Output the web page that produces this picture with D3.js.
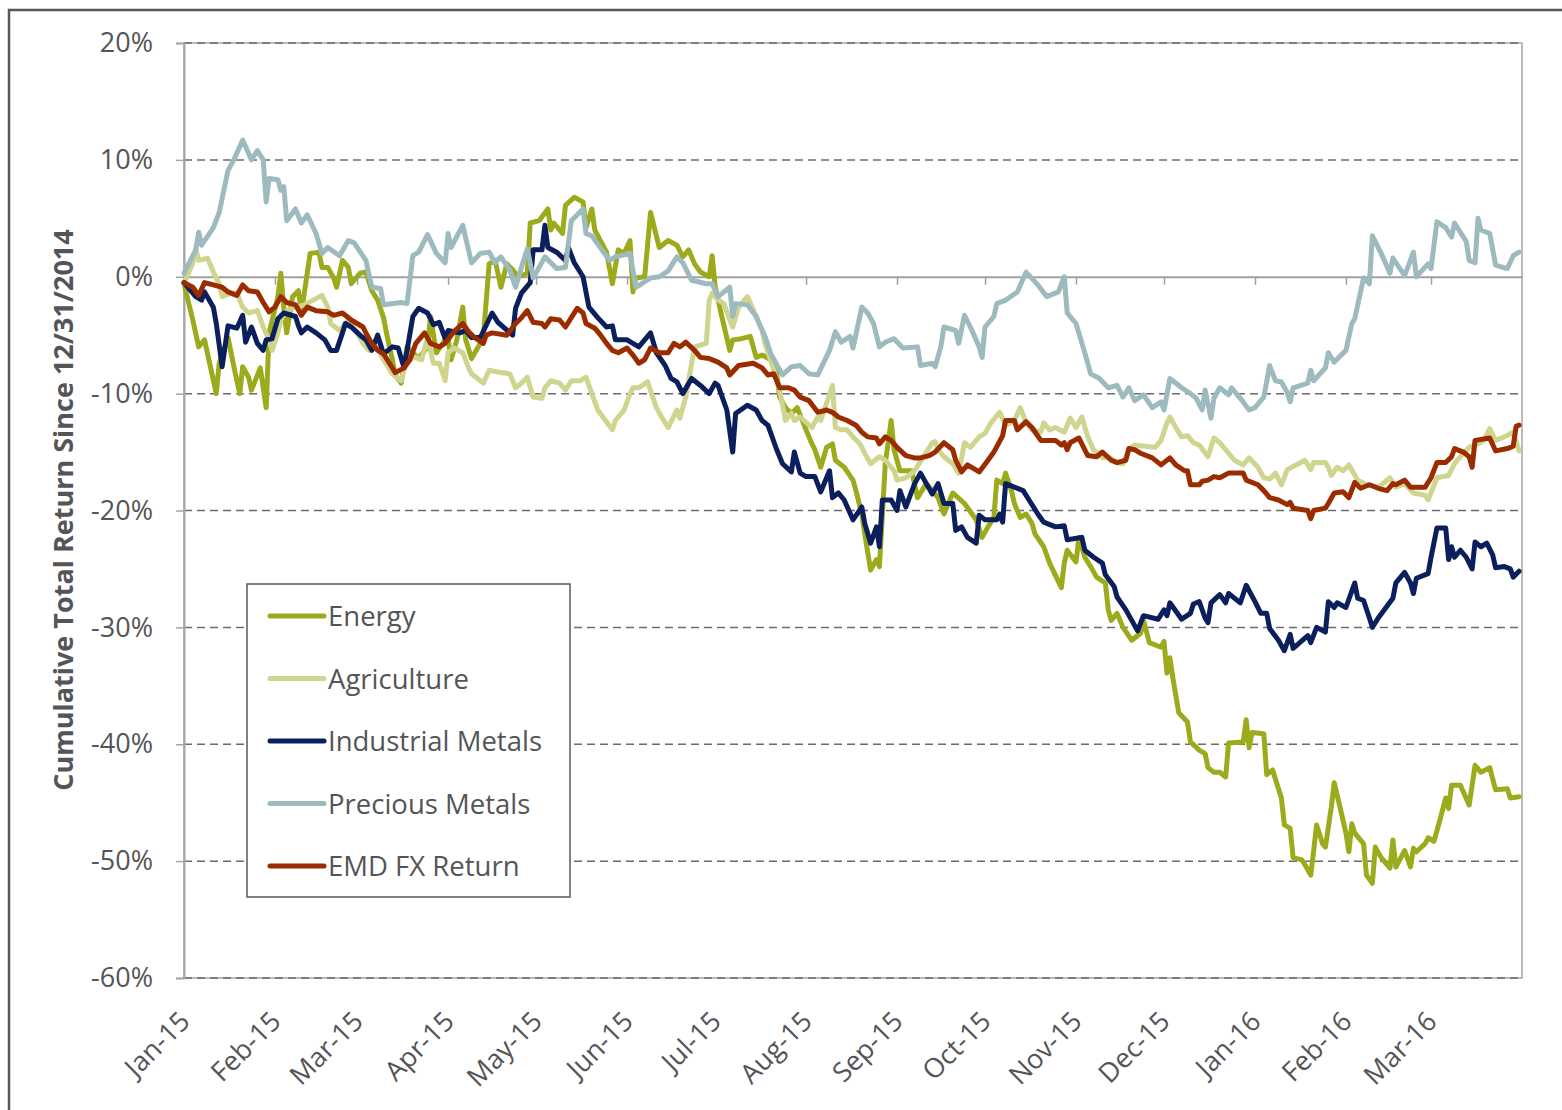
<!DOCTYPE html>
<html>
<head>
<meta charset="utf-8">
<script src="https://cdn.jsdelivr.net/npm/d3@7"></script>
<style>
  body { margin: 0; background: #fff; }
  svg { display: block; font-family: "Open Sans", sans-serif; }
</style>
</head>
<body>
<script>
// [days since 2015-01-01, cumulative return %]
const energy = [[0,-0.6],[3,-3.7],[5,-6.0],[7,-5.4],[11,-10.0],[12,-7.4],[15,-5.2],[17,-7.7],[19,-10.0],[20,-7.7],[22,-8.6],[23,-9.7],[26,-7.8],[28,-11.2],[29,-4.8],[32,-1.7],[33,0.3],[34,-2.6],[35,-4.8],[37,-1.7],[39,-1.2],[40,-3.1],[43,2.0],[46,2.1],[47,0.8],[49,0.8],[51,-0.1],[52,-0.9],[54,1.4],[56,0.8],[57,-0.6],[60,0.3],[62,0.4],[64,-1.2],[66,-2.0],[68,-3.5],[69,-4.8],[71,-7.1],[72,-8.4],[74,-9.1],[76,-6.0],[78,-6.5],[80,-7.0],[83,-6.0],[84,-3.4],[86,-6.5],[89,-5.4],[90,-5.2],[91,-7.1],[93,-5.4],[95,-2.6],[96,-5.4],[98,-7.0],[101,-5.7],[102,-5.2],[104,1.1],[106,1.4],[107,0.3],[108,-0.9],[110,1.1],[112,0.6],[114,0.0],[117,0.3],[118,4.6],[121,4.8],[124,5.8],[125,4.0],[126,4.6],[129,3.7],[130,6.1],[133,6.8],[136,6.4],[137,4.2],[139,5.8],[140,4.0],[144,2.1],[146,-0.6],[148,2.3],[150,2.0],[152,3.1],[153,-1.3],[154,-0.1],[157,0.0],[159,5.5],[162,2.5],[165,3.1],[168,2.7],[170,1.7],[172,2.3],[174,1.1],[176,0.4],[179,0.0],[180,1.8],[181,-0.8],[183,-3.1],[186,-6.3],[187,-5.4],[190,-5.3],[193,-5.1],[195,-6.9],[197,-6.7],[200,-7.1],[202,-8.3],[203,-10.3],[205,-11.2],[207,-11.7],[209,-11.2],[212,-13.1],[214,-14.3],[215,-14.8],[217,-16.3],[219,-14.6],[221,-14.3],[222,-15.7],[225,-16.3],[228,-17.4],[229,-18.3],[231,-20.3],[232,-22.0],[234,-25.1],[236,-24.2],[237,-24.8],[239,-16.0],[241,-12.3],[242,-14.8],[244,-16.6],[248,-16.6],[250,-18.9],[253,-17.7],[257,-18.9],[259,-20.3],[262,-18.5],[266,-19.4],[270,-20.8],[272,-22.3],[274,-21.4],[276,-20.6],[277,-17.4],[279,-17.7],[280,-16.8],[282,-18.3],[283,-19.4],[285,-20.6],[287,-20.3],[289,-21.1],[290,-22.0],[293,-23.1],[295,-24.5],[299,-26.6],[300,-24.5],[301,-23.4],[304,-24.4],[305,-22.3],[307,-24.0],[309,-24.8],[311,-25.7],[314,-26.2],[315,-28.5],[316,-29.4],[318,-28.8],[320,-30.0],[323,-31.1],[326,-30.5],[327,-29.4],[329,-31.3],[333,-31.7],[334,-31.2],[335,-33.9],[336,-32.6],[337,-34.3],[339,-37.3],[342,-38.1],[343,-39.8],[346,-40.5],[348,-40.8],[349,-42.0],[351,-42.4],[353,-42.4],[355,-42.8],[356,-39.9],[361,-39.8],[362,-37.9],[363,-40.3],[364,-39.0],[368,-39.1],[369,-42.6],[371,-42.2],[374,-44.6],[375,-46.9],[377,-47.2],[378,-49.7],[381,-49.9],[382,-50.3],[384,-51.2],[385,-49.1],[386,-46.9],[388,-48.5],[389,-48.8],[391,-45.4],[392,-43.3],[394,-45.4],[396,-47.6],[397,-49.2],[398,-46.8],[399,-47.6],[402,-48.5],[403,-51.2],[405,-51.9],[406,-48.8],[408,-49.7],[411,-50.6],[412,-48.2],[413,-50.5],[416,-49.1],[418,-50.5],[419,-48.9],[420,-49.2],[423,-48.5],[424,-48.0],[426,-48.3],[428,-46.5],[430,-44.6],[431,-45.5],[432,-43.5],[435,-43.5],[438,-45.2],[440,-41.8],[442,-42.4],[445,-42.0],[447,-43.9],[451,-43.8],[452,-44.6],[455,-44.5]];

const agriculture = [[0,-0.6],[3,1.2],[4,2.4],[5,1.4],[8,1.6],[10,0.4],[12,-0.6],[13,-1.7],[16,-1.4],[18,-1.4],[20,-2.6],[22,-3.1],[25,-2.9],[27,-4.3],[29,-5.4],[30,-6.3],[32,-4.8],[33,-3.7],[35,-2.9],[38,-2.6],[41,-2.4],[44,-2.0],[47,-1.6],[49,-2.6],[50,-4.0],[53,-4.6],[56,-3.7],[59,-4.8],[61,-5.7],[63,-6.3],[66,-6.1],[68,-7.1],[71,-8.3],[74,-8.9],[76,-7.1],[79,-6.9],[81,-7.1],[83,-5.2],[85,-7.4],[87,-7.4],[89,-8.9],[90,-6.5],[92,-6.1],[95,-6.5],[97,-7.8],[98,-8.3],[102,-9.1],[104,-8.0],[108,-8.2],[111,-8.3],[113,-9.5],[115,-9.1],[117,-8.6],[119,-10.3],[122,-10.4],[123,-9.5],[125,-8.9],[128,-9.1],[130,-9.7],[132,-8.9],[135,-8.9],[137,-8.6],[139,-10.0],[141,-11.4],[146,-13.1],[147,-12.3],[150,-11.4],[152,-10.0],[153,-9.5],[155,-9.5],[158,-9.0],[161,-11.2],[163,-12.1],[165,-12.9],[168,-11.4],[169,-12.1],[171,-10.3],[174,-6.0],[178,-5.7],[179,-2.0],[180,-1.4],[182,-2.0],[184,-2.3],[186,-3.7],[187,-4.3],[189,-2.6],[192,-1.7],[195,-3.4],[197,-4.6],[198,-5.7],[201,-8.0],[203,-9.7],[205,-12.3],[207,-11.7],[208,-12.3],[210,-12.0],[214,-12.9],[216,-12.0],[217,-12.3],[219,-10.8],[221,-9.3],[222,-12.9],[224,-13.1],[226,-13.1],[228,-13.7],[230,-14.2],[231,-14.6],[232,-15.1],[234,-16.0],[237,-15.4],[239,-15.7],[242,-16.6],[243,-17.4],[246,-17.2],[249,-16.6],[252,-15.4],[255,-14.2],[256,-14.1],[257,-14.8],[259,-15.4],[262,-16.0],[264,-16.8],[266,-14.2],[268,-14.6],[271,-13.7],[273,-13.4],[275,-12.5],[278,-11.6],[280,-12.7],[283,-12.3],[285,-11.2],[287,-12.5],[289,-13.1],[292,-13.3],[293,-12.5],[295,-13.1],[297,-12.9],[300,-13.3],[302,-12.1],[304,-12.9],[306,-12.0],[308,-13.7],[310,-14.8],[313,-15.5],[315,-15.4],[318,-15.9],[320,-16.0],[322,-14.8],[324,-14.4],[331,-14.6],[333,-14.0],[335,-12.5],[336,-12.0],[338,-12.9],[340,-13.7],[342,-13.6],[344,-14.2],[346,-14.4],[349,-15.4],[351,-13.8],[353,-14.2],[356,-15.1],[358,-15.7],[361,-16.1],[363,-15.5],[366,-16.3],[368,-17.2],[370,-17.3],[372,-16.8],[374,-17.8],[376,-16.5],[379,-16.1],[382,-15.7],[384,-16.5],[385,-15.9],[389,-15.9],[390,-16.3],[391,-17.0],[393,-16.3],[395,-16.6],[397,-16.1],[400,-17.4],[403,-17.8],[407,-18.0],[409,-17.6],[411,-17.2],[413,-18.0],[416,-17.7],[419,-18.5],[423,-18.7],[424,-19.1],[427,-17.2],[431,-17.0],[433,-16.0],[436,-15.1],[438,-14.6],[441,-14.3],[443,-14.0],[445,-13.0],[447,-14.0],[450,-13.7],[453,-13.3],[455,-14.9]];

const industrialMetals = [[0,-0.5],[4,-1.7],[6,-2.0],[7,-1.3],[10,-2.6],[11,-4.0],[13,-7.7],[15,-4.2],[18,-4.4],[20,-3.3],[21,-5.6],[23,-4.3],[25,-5.7],[27,-6.3],[28,-5.4],[30,-5.3],[32,-3.6],[34,-3.1],[38,-3.4],[39,-4.2],[40,-4.8],[42,-4.3],[45,-4.8],[48,-5.4],[50,-6.3],[52,-6.3],[54,-4.8],[55,-4.0],[57,-4.3],[60,-5.0],[62,-5.4],[64,-6.3],[66,-5.0],[68,-6.6],[71,-6.0],[73,-6.1],[75,-7.8],[78,-3.4],[80,-2.7],[83,-3.1],[85,-4.1],[87,-3.9],[89,-5.3],[90,-4.6],[94,-4.8],[96,-4.6],[98,-5.2],[101,-5.2],[105,-3.1],[107,-3.9],[112,-5.0],[113,-2.7],[115,-1.4],[118,-0.5],[119,2.3],[122,2.3],[123,4.4],[124,2.5],[127,2.1],[130,1.4],[131,2.5],[133,1.2],[136,0.0],[138,-2.6],[141,-3.5],[144,-4.3],[146,-4.2],[147,-5.4],[151,-5.4],[153,-5.7],[155,-6.0],[157,-5.4],[159,-4.8],[161,-6.5],[164,-7.6],[166,-8.7],[168,-9.0],[170,-10.0],[173,-8.7],[176,-9.3],[179,-10.0],[181,-9.1],[182,-9.3],[185,-11.4],[187,-15.0],[188,-11.7],[192,-11.0],[195,-11.4],[197,-12.3],[199,-12.7],[202,-14.8],[204,-16.0],[207,-16.7],[208,-15.0],[210,-16.8],[212,-17.1],[215,-17.1],[217,-18.4],[220,-16.6],[221,-18.9],[223,-18.5],[225,-19.1],[228,-20.8],[231,-19.7],[232,-21.1],[234,-22.8],[236,-21.4],[237,-23.1],[238,-19.1],[241,-19.1],[243,-20.0],[244,-18.3],[246,-19.7],[249,-17.7],[251,-16.8],[253,-17.7],[255,-18.6],[257,-17.7],[259,-19.4],[262,-19.4],[263,-21.7],[265,-21.4],[267,-22.3],[270,-22.8],[271,-20.4],[273,-20.8],[277,-20.8],[278,-20.3],[279,-21.0],[280,-17.7],[283,-18.0],[286,-18.3],[288,-19.1],[291,-20.3],[293,-21.0],[297,-21.4],[300,-21.3],[301,-22.5],[306,-22.3],[307,-23.4],[310,-24.0],[313,-24.5],[314,-25.5],[317,-26.5],[318,-27.4],[321,-28.5],[323,-29.4],[325,-30.3],[327,-29.0],[332,-29.3],[334,-28.5],[335,-29.0],[336,-27.9],[340,-29.3],[343,-28.8],[344,-28.0],[346,-27.8],[348,-29.2],[349,-29.6],[350,-27.9],[353,-27.2],[355,-27.9],[356,-27.1],[360,-27.9],[362,-26.4],[365,-27.8],[367,-28.8],[369,-28.8],[370,-30.1],[373,-31.1],[375,-32.0],[377,-30.6],[378,-31.8],[383,-30.7],[384,-31.3],[386,-30.0],[389,-30.4],[390,-27.8],[392,-28.3],[393,-27.9],[396,-28.3],[399,-26.2],[400,-27.5],[402,-27.7],[404,-29.2],[405,-30.0],[407,-29.2],[412,-27.5],[413,-26.2],[416,-25.3],[418,-26.2],[419,-27.1],[420,-25.8],[424,-25.4],[425,-24.0],[427,-21.5],[430,-21.5],[431,-24.2],[432,-23.1],[433,-24.0],[435,-23.4],[437,-24.0],[439,-25.0],[440,-22.7],[442,-23.1],[444,-22.8],[446,-23.8],[447,-24.9],[450,-24.8],[452,-25.0],[453,-25.7],[455,-25.2]];

const preciousMetals = [[0,0.3],[4,2.3],[5,3.8],[6,2.7],[10,4.2],[12,5.5],[15,9.1],[17,10.0],[20,11.7],[23,10.0],[25,10.8],[27,10.0],[28,6.4],[29,8.4],[32,8.3],[33,7.4],[34,7.7],[35,4.8],[38,5.8],[40,4.6],[42,5.3],[45,3.7],[47,2.0],[49,2.5],[53,1.8],[56,3.1],[58,2.9],[62,1.4],[64,-0.9],[67,-1.0],[68,-2.4],[74,-2.2],[76,-2.3],[78,1.8],[80,2.1],[83,3.6],[86,2.0],[89,1.2],[90,3.7],[91,2.5],[95,4.4],[98,1.2],[101,2.0],[104,2.1],[106,1.2],[108,1.7],[111,0.6],[113,-0.9],[115,0.8],[117,2.4],[119,-0.1],[123,1.7],[127,0.7],[130,0.8],[132,4.8],[136,5.8],[137,3.7],[139,3.5],[145,1.4],[147,1.7],[152,2.0],[154,-0.9],[156,-0.6],[159,-0.1],[162,0.0],[165,0.5],[168,1.7],[170,1.2],[173,-0.3],[178,-0.6],[180,-0.6],[182,-1.7],[186,-0.9],[187,-3.4],[188,-2.3],[192,-2.4],[195,-3.4],[198,-5.1],[200,-6.6],[204,-8.4],[207,-7.7],[210,-7.6],[213,-8.3],[216,-8.4],[220,-6.3],[222,-4.7],[224,-5.6],[227,-5.1],[228,-6.1],[231,-2.6],[233,-3.1],[235,-4.0],[237,-6.0],[239,-5.6],[242,-5.3],[245,-6.1],[250,-6.0],[251,-7.6],[255,-7.4],[256,-7.7],[258,-5.9],[259,-4.3],[263,-4.6],[264,-5.7],[266,-3.3],[268,-4.3],[271,-6.0],[272,-6.9],[273,-4.3],[276,-3.4],[277,-2.3],[280,-2.0],[284,-1.3],[287,0.4],[291,-0.7],[294,-1.7],[298,-1.3],[300,0.0],[301,-3.1],[304,-4.0],[307,-6.5],[309,-8.3],[312,-8.7],[315,-9.5],[318,-9.3],[320,-10.3],[322,-9.5],[324,-10.6],[327,-10.1],[330,-11.2],[333,-10.7],[334,-11.4],[336,-8.7],[340,-9.5],[343,-10.0],[345,-10.4],[347,-11.4],[348,-9.7],[350,-12.1],[351,-10.4],[353,-9.5],[356,-10.1],[357,-9.5],[360,-10.4],[363,-11.4],[365,-11.2],[368,-10.3],[370,-7.6],[372,-8.9],[374,-9.0],[376,-9.9],[377,-10.7],[378,-9.5],[383,-9.1],[384,-8.0],[385,-8.9],[389,-7.8],[390,-6.5],[392,-7.3],[396,-6.3],[398,-4.0],[399,-3.6],[402,-0.1],[404,-0.6],[405,3.5],[408,2.0],[411,0.3],[412,1.6],[416,0.1],[419,2.1],[420,0.0],[424,1.1],[425,0.7],[427,4.7],[430,4.2],[432,3.4],[433,4.6],[437,3.0],[438,1.4],[440,1.2],[441,5.0],[442,4.0],[445,3.7],[447,1.0],[451,0.7],[453,1.8],[455,2.1]];

const emdFx = [[0,-0.5],[3,-0.9],[5,-1.6],[7,-0.5],[10,-0.7],[13,-0.9],[15,-1.3],[18,-1.6],[20,-0.7],[22,-1.2],[25,-1.3],[27,-2.2],[29,-3.0],[31,-2.6],[33,-1.7],[35,-2.2],[38,-2.4],[40,-3.3],[42,-2.6],[45,-2.9],[49,-3.0],[51,-3.3],[54,-3.1],[57,-3.7],[61,-4.3],[62,-4.8],[64,-5.7],[66,-6.3],[68,-6.6],[70,-7.4],[72,-8.2],[75,-7.8],[77,-7.1],[79,-5.7],[82,-4.8],[84,-5.7],[87,-6.0],[89,-5.7],[92,-4.7],[95,-4.0],[97,-4.7],[99,-5.2],[102,-5.7],[103,-5.0],[105,-4.8],[110,-5.0],[113,-4.0],[115,-3.5],[117,-2.9],[119,-3.9],[122,-4.0],[123,-4.3],[125,-3.6],[128,-3.7],[130,-4.3],[132,-3.5],[134,-2.7],[136,-3.1],[137,-4.0],[140,-4.4],[142,-5.0],[144,-5.7],[146,-6.3],[148,-6.5],[151,-6.1],[153,-6.7],[155,-7.4],[157,-7.1],[159,-6.1],[162,-6.5],[165,-6.5],[167,-5.7],[169,-6.0],[171,-5.6],[174,-6.3],[176,-6.9],[179,-7.0],[182,-7.3],[185,-7.8],[186,-8.4],[189,-7.6],[194,-7.4],[197,-7.8],[199,-8.4],[201,-8.3],[203,-9.5],[206,-9.5],[208,-9.7],[210,-10.3],[213,-10.6],[216,-11.6],[219,-11.4],[221,-11.6],[223,-12.0],[226,-12.3],[229,-12.7],[231,-13.3],[233,-13.7],[236,-13.8],[237,-14.3],[239,-13.7],[241,-14.0],[243,-14.6],[246,-15.3],[249,-15.5],[251,-15.5],[254,-15.3],[256,-15.0],[259,-14.2],[262,-14.8],[263,-15.7],[265,-16.7],[267,-16.1],[271,-16.7],[274,-15.7],[276,-15.0],[279,-13.6],[280,-12.3],[283,-12.3],[284,-13.1],[287,-12.4],[289,-12.9],[292,-14.0],[297,-14.0],[299,-14.4],[300,-14.2],[301,-14.8],[302,-14.2],[305,-13.8],[308,-15.3],[311,-15.4],[313,-15.0],[316,-15.7],[318,-15.9],[321,-15.7],[322,-14.7],[324,-14.8],[326,-15.1],[330,-15.5],[333,-16.1],[336,-15.5],[338,-16.1],[341,-16.6],[342,-16.6],[343,-17.8],[346,-17.8],[347,-17.5],[349,-17.4],[351,-17.1],[353,-17.2],[356,-16.8],[361,-16.8],[362,-17.4],[366,-17.8],[368,-18.3],[370,-18.9],[373,-19.1],[376,-19.5],[377,-19.3],[378,-19.8],[383,-20.0],[384,-20.7],[385,-20.0],[389,-19.8],[390,-19.4],[392,-18.5],[395,-18.4],[397,-18.9],[399,-17.6],[401,-18.1],[404,-17.8],[407,-18.1],[410,-18.3],[412,-17.7],[413,-17.8],[416,-17.4],[418,-18.0],[423,-18.0],[425,-17.2],[427,-15.9],[430,-15.9],[432,-15.4],[433,-14.7],[436,-15.0],[438,-15.4],[439,-16.3],[440,-14.0],[445,-13.8],[447,-14.9],[451,-14.7],[453,-14.5],[454,-12.8],[455,-12.7]];

const seriesNames = ["Energy", "Agriculture", "Industrial Metals", "Precious Metals", "EMD FX Return"];
const seriesColors = ["#9cab1c", "#cfd58e", "#0b1f5c", "#9dbbbf", "#9a2c00"];
const monthLabels = ["Jan-15","Feb-15","Mar-15","Apr-15","May-15","Jun-15","Jul-15","Aug-15","Sep-15","Oct-15","Nov-15","Dec-15","Jan-16","Feb-16","Mar-16"];
const yTicks = [20, 10, 0, -10, -20, -30, -40, -50, -60];
const yTitle = "Cumulative Total Return Since 12/31/2014";

const W = 1562, H = 1110;
const plotLeft = 184, plotRight = 1522, plotTop = 43, plotBottom = 978;
const textColor = "#545557";
const start = new Date(Date.UTC(2015, 0, 1));
const end = new Date(Date.UTC(2016, 3, 1));

const svg = d3.select("body").append("svg")
    .attr("width", W)
    .attr("height", H);

// outer frame
svg.append("rect")
    .attr("x", 9).attr("y", 10)
    .attr("width", 1700).attr("height", 1300)
    .attr("fill", "none")
    .attr("stroke", "#58585a")
    .attr("stroke-width", 2.5);

const x = d3.scaleUtc().domain([start, end]).range([plotLeft, plotRight]);
const y = d3.scaleLinear().domain([-60, 20]).range([plotBottom, plotTop]);

// plot area border
svg.append("rect")
    .attr("x", plotLeft).attr("y", plotTop)
    .attr("width", plotRight - plotLeft).attr("height", plotBottom - plotTop)
    .attr("fill", "none")
    .attr("stroke", "#a6a6a6")
    .attr("stroke-width", 1.5);

// dashed gridlines
svg.append("g")
    .selectAll("line")
    .data(yTicks.filter(d => d !== 0))
    .join("line")
    .attr("x1", plotLeft).attr("x2", plotRight)
    .attr("y1", d => y(d)).attr("y2", d => y(d))
    .attr("stroke", "#6b6b6b")
    .attr("stroke-width", 1.5)
    .attr("stroke-dasharray", "8,5");

// y axis
const yAxis = svg.append("g")
    .attr("transform", `translate(${plotLeft},0)`)
    .call(d3.axisLeft(y).tickValues(yTicks).tickSize(8).tickPadding(23).tickFormat(d => d + "%"));
yAxis.select(".domain").attr("stroke", "#a6a6a6").attr("stroke-width", 2);
yAxis.selectAll(".tick line").attr("stroke", "#a6a6a6").attr("stroke-width", 1.5);
yAxis.selectAll(".tick text")
    .attr("fill", textColor)
    .style("font-size", "27px")
    .style("font-family", "'Open Sans', sans-serif");

const months = d3.utcMonth.range(start, d3.utcMonth.offset(start, 15));

// zero line with month ticks
const zeroAxis = svg.append("g")
    .attr("transform", `translate(0,${y(0)})`)
    .call(d3.axisBottom(x).tickValues(months).tickSize(8).tickSizeOuter(0).tickFormat(""));
zeroAxis.select(".domain").attr("stroke", "#a0a0a0").attr("stroke-width", 2.2);
zeroAxis.selectAll(".tick line").attr("stroke", "#a0a0a0").attr("stroke-width", 1.5);

// month labels along the bottom
const labelAxis = svg.append("g")
    .attr("transform", `translate(0,${plotBottom})`)
    .call(d3.axisBottom(x).tickValues(months).tickSize(0).tickFormat((d, i) => monthLabels[i]));
labelAxis.select(".domain").remove();
labelAxis.selectAll(".tick text")
    .attr("x", 0).attr("y", 0).attr("dy", 0)
    .attr("transform", "translate(7,45) rotate(-45)")
    .attr("text-anchor", "end")
    .attr("fill", textColor)
    .style("font-size", "27px")
    .style("font-family", "'Open Sans', sans-serif");

// axis title
svg.append("text")
    .attr("transform", "translate(73,510) rotate(-90)")
    .attr("text-anchor", "middle")
    .attr("fill", textColor)
    .style("font-size", "27px")
    .style("font-weight", "bold")
    .text(yTitle);

// lines
const line = d3.line()
    .x(d => x(d3.utcDay.offset(start, d[0])))
    .y(d => y(d[1]));

const allSeries = [energy, agriculture, industrialMetals, preciousMetals, emdFx];
svg.append("g")
    .selectAll("path")
    .data(allSeries)
    .join("path")
    .attr("d", line)
    .attr("fill", "none")
    .attr("stroke", (d, i) => seriesColors[i])
    .attr("stroke-width", 5)
    .attr("stroke-linejoin", "round")
    .attr("stroke-linecap", "round");

// legend
const legend = svg.append("g");
legend.append("rect")
    .attr("x", 247).attr("y", 584)
    .attr("width", 323).attr("height", 313)
    .attr("fill", "#fff")
    .attr("stroke", "#58585a")
    .attr("stroke-width", 1.5);

const rows = legend.selectAll("g.row")
    .data(seriesNames)
    .join("g")
    .attr("class", "row")
    .attr("transform", (d, i) => `translate(0,${616 + i * 62.5})`);
rows.append("line")
    .attr("x1", 270).attr("x2", 324)
    .attr("stroke", (d, i) => seriesColors[i])
    .attr("stroke-width", 5)
    .attr("stroke-linecap", "round");
rows.append("text")
    .attr("x", 328).attr("y", 10)
    .attr("fill", textColor)
    .style("font-size", "27.5px")
    .text(d => d);
</script>
</body>
</html>
